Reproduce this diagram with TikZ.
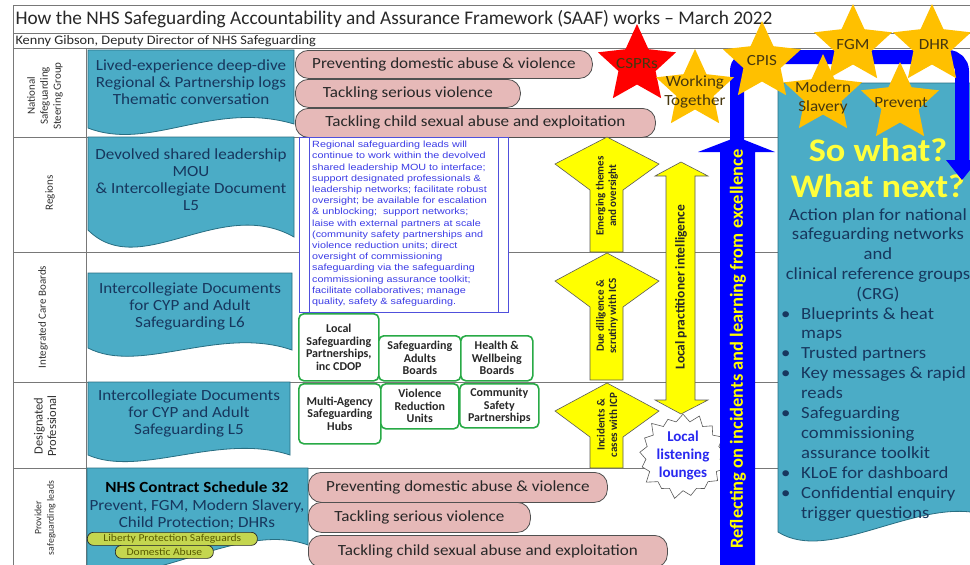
\documentclass[tikz,border=0pt]{standalone}
\usepackage{fontspec}
\setmainfont{Carlito}
\newfontfamily\widefont[FakeStretch=1.1]{Carlito}
\newfontfamily\arialfont[FakeStretch=1.2]{Liberation Sans}
\usetikzlibrary{shapes.geometric,shapes.symbols,positioning}

\definecolor{tealfill}{RGB}{75,172,198}
\definecolor{tealline}{RGB}{40,110,130}
\definecolor{navytext}{RGB}{23,55,94}
\definecolor{labeltext}{RGB}{50,50,50}
\definecolor{gridgrey}{RGB}{120,120,120}
\definecolor{pinkfill}{RGB}{230,185,184}
\definecolor{pillline}{RGB}{80,80,80}
\definecolor{darktext}{RGB}{40,40,40}
\definecolor{greenline}{RGB}{40,170,70}
\definecolor{boxblue}{RGB}{80,80,220}
\definecolor{boxtext}{RGB}{60,60,230}
\definecolor{arrowyellow}{RGB}{255,255,0}
\definecolor{arrowline}{RGB}{90,90,90}
\definecolor{bigblue}{RGB}{0,0,255}
\definecolor{stargold}{RGB}{255,192,0}
\definecolor{starred}{RGB}{255,0,0}
\definecolor{starbrown}{RGB}{70,55,15}
\definecolor{whatyellow}{RGB}{255,255,60}
\definecolor{olivefill}{RGB}{196,214,79}
\definecolor{olivetext}{RGB}{90,90,0}
\definecolor{loungeblue}{RGB}{40,40,240}

\begin{document}
\begin{tikzpicture}[x=1pt,y=-1pt,
  grid/.style={draw=gridgrey,line width=0.8pt},
  rowlabel/.style={rotate=90,align=center,text=labeltext,font=\fontsize{11}{13}\selectfont},
  docbox/.style={fill=tealfill,draw=tealline,line width=0.8pt},
  doctext/.style={align=center,text=navytext,font=\widefont\fontsize{15.5}{17}\selectfont},
  pill/.style={rectangle,rounded corners=13pt,fill=pinkfill,draw=pillline,line width=0.8pt,
    anchor=north west,inner sep=0pt,text=darktext,font=\widefont\fontsize{15.5}{17}\selectfont},
  olivepill/.style={rectangle,rounded corners=6pt,fill=olivefill,draw=darktext,line width=0.7pt,
    anchor=north west,inner sep=0pt,text=olivetext,font=\widefont\fontsize{10.5}{11}\selectfont},
  partner/.style={rectangle,rounded corners=5pt,draw=greenline,line width=1.6pt,fill=white,
    anchor=north west,inner sep=0pt,align=center,text=darktext,font=\bfseries\fontsize{12}{12.5}\selectfont},
  yarrow/.style={fill=arrowyellow,draw=arrowline,line width=0.6pt},
  arrowtext/.style={rotate=90,align=center,text=darktext,font=\bfseries\fontsize{11}{12.5}\selectfont},
  goldstar/.style={star,star points=5,star point ratio=2.1,minimum size=82pt,inner sep=0pt,fill=stargold},
  startext/.style={align=center,text=starbrown,font=\widefont\fontsize{15.5}{19}\selectfont},
  bullets/.style={anchor=north west,align=left,inner sep=0pt,text=navytext,font=\widefont\fontsize{17}{19.9}\selectfont}]

\useasboundingbox (0,0) rectangle (970,565);
\clip (0,0) rectangle (970,565);
\fill[white] (0,0) rectangle (970,565);

% title rows and table grid
\draw[grid] (13,5) -- (975,5);
\draw[grid] (13,33) -- (975,33);
\draw[grid] (13,48) -- (975,48);
\draw[grid] (13,5) -- (13,570);
\draw[grid] (86,48) -- (86,570);
\foreach \y in {137,252,382,468} \draw[grid] (13,\y) -- (778,\y);

\node[anchor=west,text=darktext,font=\fontsize{19.3}{22}\selectfont] (title) at (12,19)
  {How the NHS Safeguarding Accountability and Assurance Framework (SAAF) works -- March 2022};
\node[anchor=west,text=darktext,font=\widefont\fontsize{13}{14}\selectfont] (author) at (12,41)
  {Kenny Gibson, Deputy Director of NHS Safeguarding};

% row labels
\node[rowlabel] (national) at (45,96) {National\\Safeguarding\\Steering Group};
\node[rowlabel] (regions) at (50,193) {Regions};
\node[rowlabel] (icb) at (43,317) {Integrated Care Boards};
\node[rowlabel,font=\fontsize{12.5}{13.5}\selectfont] (designated) at (45,426) {Designated\\Professional};
\node[rowlabel,font=\fontsize{9.8}{12.5}\selectfont] (provider) at (45,518) {Provider\\safeguarding leads};

% teal document boxes
\draw[docbox] (88,50) -- (294,50) -- (294,124) .. controls (212,100) and (150,152) .. (88,128) -- cycle;
\node[doctext] (natdoc) at (191,82) {Lived-experience deep-dive\\Regional \& Partnership logs\\Thematic conversation};

\draw[docbox] (88,137) -- (294,137) -- (294,237) .. controls (220,195) and (140,282) .. (88,230) -- cycle;
\node[doctext] (regdoc) at (191,180) {Devolved shared leadership\\MOU\\\& Intercollegiate Document\\L5};

\draw[docbox] (88,273) -- (292,273) -- (292,350) .. controls (220,325) and (140,375) .. (88,348) -- cycle;
\node[doctext] (icbdoc) at (190,306) {Intercollegiate Documents\\for CYP and Adult\\Safeguarding L6};

\draw[docbox] (88,382) -- (290,382) -- (290,455) .. controls (220,432) and (140,478) .. (88,455) -- cycle;
\node[doctext] (desdoc) at (189,413) {Intercollegiate Documents\\for CYP and Adult\\Safeguarding L5};

\draw[docbox] (87,468) -- (308,468) -- (308,545) .. controls (240,520) and (150,590) .. (87,570) -- cycle;
\node[doctext,font=\widefont\fontsize{15.5}{17.5}\selectfont] (contract) at (197,506)
  {\textcolor{black}{\bfseries NHS Contract Schedule 32}\\Prevent, FGM, Modern Slavery,\\Child Protection; DHRs};
\node[olivepill,minimum width=170,minimum height=13] (liberty) at (87,532) {Liberty Protection Safeguards};
\node[olivepill,minimum width=98,minimum height=13] (domabuse) at (115,545) {Domestic Abuse};

% pink pills, national row
\node[pill,minimum width=297,minimum height=28] (prevtop) at (295,50) {Preventing domestic abuse \& violence};
\node[pill,minimum width=225,minimum height=28] (violtop) at (295,79) {Tackling serious violence};
\node[pill,minimum width=360,minimum height=29] (csetop) at (295,108) {Tackling child sexual abuse and exploitation};

% pink pills, provider row
\node[pill,minimum width=299,minimum height=30] (prevbot) at (308,472) {Preventing domestic abuse \& violence};
\node[pill,minimum width=222,minimum height=30] (violbot) at (308,502) {Tackling serious violence};
\node[pill,minimum width=359,minimum height=32] (csebot) at (308,535) {Tackling child sexual abuse and exploitation};

% regional leads box
\node[draw=boxblue,fill=white,line width=0.8pt,minimum width=209,minimum height=175,anchor=north west,inner sep=0pt] (leadbox) at (299,137) {};
\draw[boxblue,line width=0.8pt] ([xshift=10pt]leadbox.north west) -- ([xshift=10pt]leadbox.south west);
\draw[boxblue,line width=0.8pt] ([xshift=-10pt]leadbox.north east) -- ([xshift=-10pt]leadbox.south east);
\node[anchor=north west,text width=186pt,align=left,inner sep=0pt,text=boxtext,
  font=\arialfont\fontsize{9}{11.2}\selectfont] (leadtext) at (312,141)
  {Regional safeguarding leads will\\continue to work within the devolved\\shared leadership MOU to interface;\\
   support designated professionals \&\\leadership networks; facilitate robust\\oversight; be available for escalation\\
   \& unblocking;\ \ support networks;\\laise with external partners at scale\\(community safety partnerships and\\
   violence reduction units; direct\\oversight of commissioning\\safeguarding via the safeguarding\\
   commissioning assurance toolkit;\\facilitate collaboratives; manage\\quality, safety \& safeguarding.};

% local partnership boxes
\node[partner,minimum width=80,minimum height=67] (lsp) at (298,313) {Local\\Safeguarding\\Partnerships,\\inc CDOP};
\node[partner,minimum width=82,minimum height=45] (sab) at (378,335) {Safeguarding\\Adults\\Boards};
\node[partner,minimum width=72,minimum height=45] (hwb) at (460,335) {Health \&\\Wellbeing\\Boards};
\node[partner,minimum width=82,minimum height=60] (mash) at (298,383) {Multi-Agency\\Safeguarding\\Hubs};
\node[partner,minimum width=78,minimum height=45] (vru) at (380,383) {Violence\\Reduction\\Units};
\node[partner,minimum width=79,minimum height=44] (csp) at (459,383) {Community\\Safety\\Partnerships};

% yellow upward arrows
\draw[yarrow] (607,137) -- (659,164) -- (623,190) -- (623,252) -- (590,252) -- (590,190) -- (555,164) -- cycle;
\node[arrowtext] (emerging) at (607,196) {Emerging themes\\and oversight};
\draw[yarrow] (607,253) -- (659,281) -- (623,307) -- (623,380) -- (590,380) -- (590,307) -- (555,281) -- cycle;
\node[arrowtext] (diligence) at (607,316) {Due diligence \&\\scrutiny with ICS};
\draw[yarrow] (607,383) -- (659,411) -- (623,437) -- (623,468) -- (590,468) -- (590,437) -- (555,411) -- cycle;
\node[arrowtext] (incidents) at (607,425) {Incidents \&\\cases with ICP};

% local practitioner intelligence double arrow
\draw[yarrow] (681,162) -- (708,176) -- (695,176) -- (695,400) -- (708,400) -- (681,414)
  -- (655,400) -- (666,400) -- (666,176) -- (655,176) -- cycle;
\node[arrowtext,font=\bfseries\fontsize{13.5}{14}\selectfont] (practitioner) at (681,287) {Local practitioner intelligence};

% listening lounges
\node[starburst,starburst points=17,starburst point height=10pt,draw=arrowline,fill=white,
  line width=0.6pt,inner sep=0pt,minimum width=80pt,minimum height=82pt,align=center,text=loungeblue,
  font=\bfseries\fontsize{15}{18}\selectfont] (lounges) at (683,456) {Local\\listening\\lounges};

% right-hand action panel
\draw[docbox] (778,83) -- (985,83) -- (985,515) .. controls (920,495) and (830,565) .. (778,532) -- cycle;
\node[align=center,text=whatyellow,font=\widefont\bfseries\fontsize{33}{36}\selectfont] (sowhat) at (878,168) {So what?\\What next?};
\node[align=center,inner sep=0pt,anchor=north,text=navytext,font=\widefont\fontsize{17}{19.8}\selectfont] (actionplan) at (878,208)
  {Action plan for national\\safeguarding networks\\and\\clinical reference groups\\(CRG)};
\node[bullets] (actions) at (781,307)
  {\makebox[20pt][l]{\textbullet}Blueprints \& heat\\\hspace*{20pt}maps\\
   \makebox[20pt][l]{\textbullet}Trusted partners\\
   \makebox[20pt][l]{\textbullet}Key messages \& rapid\\\hspace*{20pt}reads\\
   \makebox[20pt][l]{\textbullet}Safeguarding\\\hspace*{20pt}commissioning\\\hspace*{20pt}assurance toolkit\\
   \makebox[20pt][l]{\textbullet}KLoE for dashboard\\
   \makebox[20pt][l]{\textbullet}Confidential enquiry\\\hspace*{20pt}trigger questions};

% blue learning loop
\coordinate (loopstart) at (737,150);
\coordinate (loopend) at (962,162);
\draw[bigblue,line width=14pt,rounded corners=14pt] (loopstart) -- (737,57) -- (962,57) -- (loopend);
\fill[bigblue] (946,160) -- (978,160) -- (962,180) -- cycle;
\fill[bigblue] (720,570) -- (720,152) -- (698,152) -- (737,137) -- (775,152) -- (755,152) -- (755,570) -- cycle;
\node[rotate=90,text=arrowyellow,font=\bfseries\fontsize{18.5}{20}\selectfont] (reflecting) at (738,349)
  {Reflecting on incidents and learning from excellence};

% stars
\node[goldstar,fill=starred] (csprstar) at (637,65) {};
\node[startext] (cspr) at (637,64) {CSPRs};
\node[goldstar] (wtstar) at (695,90) {};
\node[startext] (wt) at (695,92) {Working\\Together};
\node[goldstar] (cpisstar) at (762,62) {};
\node[startext] (cpis) at (762,61) {CPIS};
\node[goldstar] (fgmstar) at (853,45) {};
\node[startext] (fgm) at (853,45) {FGM};
\node[goldstar] (dhrstar) at (932,45) {};
\node[startext] (dhr) at (934,45) {DHR};
\node[goldstar] (msstar) at (823,95) {};
\node[startext] (ms) at (823,98) {Modern\\Slavery};
\node[goldstar] (prevstar) at (900,103) {};
\node[startext] (prev) at (901,103) {Prevent};

\end{tikzpicture}
\end{document}
